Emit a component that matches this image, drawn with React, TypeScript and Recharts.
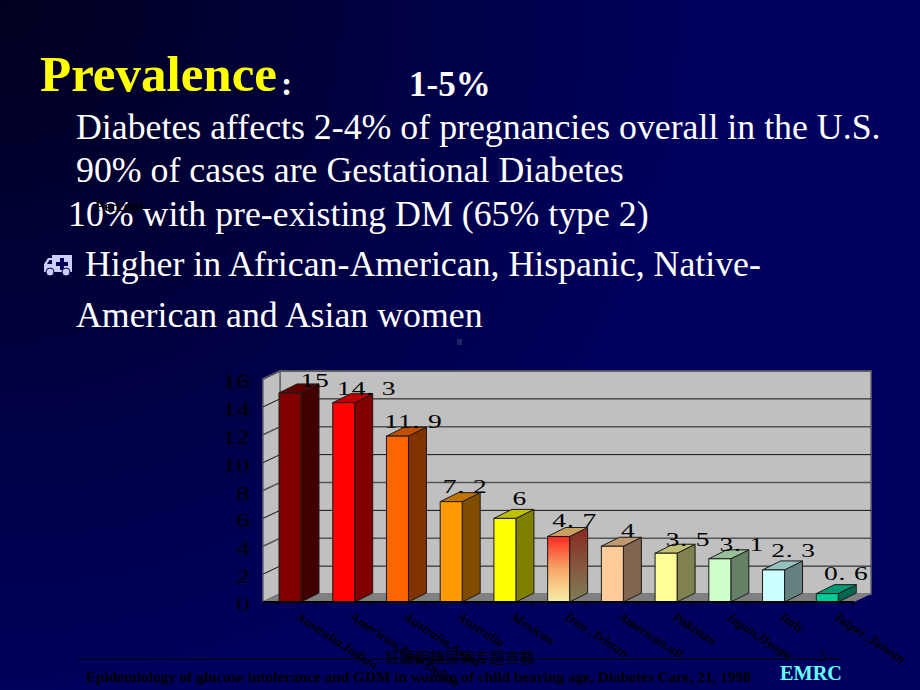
import React from "react";
import { BarChart, Bar, XAxis, YAxis, CartesianGrid, LabelList } from "recharts";

const categories = [
  "Australia,Indian",
  "American,Zuni Indian",
  "Australia,Asian",
  "Australia",
  "Mexican",
  "Iran ,Tehran",
  "American,all",
  "Pakistan",
  "Japan,Hyogo",
  "Italy",
  "Taipei ,Taiwan",
];
const prevalence = [15, 14.3, 11.9, 7.2, 6, 4.7, 4, 3.5, 3.1, 2.3, 0.6];
const yTicks = [0, 2, 4, 6, 8, 10, 12, 14, 16];
const barColors = [
  "#800000",
  "#ff0000",
  "#ff6600",
  "#ff9900",
  "#ffff00",
  "url(#fade)",
  "#ffcc99",
  "#ffff99",
  "#ccffcc",
  "#ccffff",
  "#00cc99",
];
const sideColors = [
  "#400000",
  "#800000",
  "#803300",
  "#804d00",
  "#808000",
  "#85604a",
  "#806650",
  "#808050",
  "#668066",
  "#668080",
  "#00664d",
];
const topColors = [
  "#600000",
  "#c00000",
  "#c04d00",
  "#c07300",
  "#c0c000",
  "#c8a060",
  "#c09973",
  "#c0c073",
  "#99c099",
  "#99c0c0",
  "#009973",
];

const chartData = categories.map((name, i) => ({ name, value: prevalence[i] }));

// plot box and the 3d depth of the walls
const LEFT = 263;
const RIGHT = 854;
const TOP = 379;
const FLOOR = 602;
const DX = 17;
const DY = 8;

// value labels sit a bit off the bars in the original, nudge [dx, dy] per bar
const labelNudge = [
  [25, -6],
  [23, -8],
  [16, -8],
  [14, -9],
  [15, -13],
  [16, -9],
  [16, -9],
  [22, -7],
  [22, -8],
  [20, -13],
  [19, -14],
];

// sits under the chart, the chart svg itself is transparent
const Walls = () => (
  <svg width={920} height={690} style={{ position: "absolute", left: 0, top: 0 }}>
    <polygon
      points={`${LEFT + DX},${TOP - DY} ${RIGHT + DX},${TOP - DY} ${RIGHT + DX},${FLOOR - DY} ${LEFT + DX},${FLOOR - DY}`}
      fill="#c0c0c0"
      stroke="#666677"
      strokeWidth={1.5}
    />
    <polygon
      points={`${LEFT},${TOP} ${LEFT + DX},${TOP - DY} ${LEFT + DX},${FLOOR - DY} ${LEFT},${FLOOR}`}
      fill="#c0c0c0"
      stroke="#666677"
      strokeWidth={1.5}
    />
    <polygon
      points={`${LEFT},${FLOOR} ${LEFT + DX},${FLOOR - DY} ${RIGHT + DX},${FLOOR - DY} ${RIGHT},${FLOOR}`}
      fill="#808080"
    />
  </svg>
);

const WallLine = (props: any) => {
  const { y1, x1, x2, index } = props;
  if (y1 >= FLOOR - 1) return <g />;
  return (
    <polyline
      points={`${x1},${y1} ${x1 + DX},${y1 - DY} ${x2 + DX},${y1 - DY}`}
      fill="none"
      stroke={index % 2 ? "#111111" : "#555555"}
      strokeWidth={index % 2 ? 1 : 1.5}
    />
  );
};

const Box3D = (props: any) => {
  const { x, y, width, height, index } = props;
  const r = x + width;
  const b = y + height;
  const dx = 18;
  const dy = 9;
  return (
    <g stroke="#1a1a1a" strokeWidth={1}>
      <polygon
        points={`${r},${y} ${r + dx},${y - dy} ${r + dx},${b - dy} ${r},${b}`}
        fill={index === 5 ? "url(#fadeSide)" : sideColors[index]}
      />
      <polygon
        points={`${x},${y} ${x + dx},${y - dy} ${r + dx},${y - dy} ${r},${y}`}
        fill={topColors[index]}
      />
      <rect x={x} y={y} width={width} height={height} fill={barColors[index]} />
    </g>
  );
};

const CategoryTick = (props: any) => {
  const { x, y, payload, index } = props;
  const slot = (RIGHT - LEFT) / categories.length;
  return (
    <g>
      <line x1={x - slot / 2} y1={FLOOR} x2={x - slot / 2} y2={FLOOR + 4} stroke="#000000" />
      {index === categories.length - 1 && (
        <line x1={x + slot / 2} y1={FLOOR} x2={x + slot / 2} y2={FLOOR + 4} stroke="#000000" />
      )}
      <text
        x={x + 6}
        y={y + 9}
        transform={`rotate(33 ${x + 6} ${y + 9})`}
        fontFamily="Liberation Serif"
        fontWeight="bold"
        fontStyle="italic"
        fontSize={13}
        letterSpacing={0.3}
        fill="#000000"
      >
        {payload.value}
      </text>
    </g>
  );
};

// the chart text in the original is stretched sideways
const WideText = ({ x, y, anchor, spacing, children }: any) => (
  <g transform={`translate(${x} ${y}) scale(1.45 1)`}>
    <text
      textAnchor={anchor}
      fontFamily="Liberation Serif"
      fontSize={19}
      letterSpacing={spacing}
      fill="#000000"
    >
      {children}
    </text>
  </g>
);

const ValueTick = (props: any) => {
  const { y, payload } = props;
  return (
    <WideText x={250} y={y + 9} anchor="end" spacing={0}>
      {payload.value}
    </WideText>
  );
};

const BarValue = (props: any) => {
  const { x, y, width, value, index } = props;
  const [dx, dy] = labelNudge[index];
  return (
    <WideText x={x + width / 2 + dx} y={y + dy} anchor="middle" spacing={0.6}>
      {String(value).replace(".", ". ")}
    </WideText>
  );
};

const serif = "'Liberation Serif', serif";

const Line = ({ x, y, size, children, style }: any) => (
  <div
    style={{
      position: "absolute",
      left: x,
      top: y,
      fontFamily: serif,
      fontSize: size,
      lineHeight: 1,
      whiteSpace: "nowrap",
      color: "#ffffff",
      ...style,
    }}
  >
    {children}
  </div>
);

const Ambulance = () => (
  <svg
    width={30}
    height={24}
    viewBox="0 0 30 24"
    style={{ position: "absolute", left: 43, top: 253 }}
  >
    <path d="M9 2 H29 V19 H1 V11 L5 5 H9 Z" fill="#ccccff" />
    <path d="M4 11 L6.5 7 H9 V11 Z" fill="#000055" />
    <path d="M17 5 H21 V9 H25 V13 H21 V17 H17 V13 H13 V9 H17 Z" fill="#000055" />
    <circle cx={7} cy={19} r={4} fill="#ccccff" stroke="#000055" />
    <circle cx={23} cy={19} r={4} fill="#ccccff" stroke="#000055" />
  </svg>
);

export default function App() {
  return (
    <div
      style={{
        position: "absolute",
        left: 0,
        top: 0,
        width: 920,
        height: 690,
        overflow: "hidden",
        background: "radial-gradient(circle 700px at 0 0, #00001e 0%, #00005e 100%)",
      }}
    >
      <Walls />
      <BarChart
        width={920}
        height={690}
        data={chartData}
        margin={{ top: TOP, right: 920 - RIGHT, left: LEFT - 60, bottom: 0 }}
        barSize={22}
        style={{ position: "absolute", left: 0, top: 0 }}
      >
        <defs>
          <linearGradient id="fade" x1="0" y1="0" x2="0" y2="1">
            <stop offset="0" stopColor="#ff2a20" />
            <stop offset="0.5" stopColor="#f7a868" />
            <stop offset="1" stopColor="#f5f0a8" />
          </linearGradient>
          <linearGradient id="fadeSide" x1="0" y1="0" x2="0" y2="1">
            <stop offset="0" stopColor="#8a2a20" />
            <stop offset="1" stopColor="#808058" />
          </linearGradient>
        </defs>
        <CartesianGrid vertical={false} horizontal={(p: any) => <WallLine {...p} />} />
        <XAxis
          dataKey="name"
          height={690 - FLOOR}
          interval={0}
          axisLine={{ stroke: "#000000", strokeWidth: 2 }}
          tickLine={false}
          tick={(p: any) => <CategoryTick {...p} />}
        />
        <YAxis
          width={60}
          domain={[0, 16]}
          ticks={yTicks}
          axisLine={false}
          tickLine={false}
          tick={(p: any) => <ValueTick {...p} />}
        />
        <Bar dataKey="value" shape={(p: any) => <Box3D {...p} />} isAnimationActive={false}>
          <LabelList dataKey="value" content={(p: any) => <BarValue {...p} />} />
        </Bar>
      </BarChart>

      <Line x={40} y={49} size={51} style={{ color: "#ffff00", fontWeight: "bold" }}>
        Prevalence
      </Line>
      <Line x={281} y={67} size={34} style={{ fontWeight: "bold" }}>
        :
      </Line>
      <Line x={409} y={67} size={35} style={{ fontWeight: "bold" }}>
        1-5%
      </Line>
      <Line x={76} y={110} size={35.8}>
        Diabetes affects 2-4% of pregnancies overall in the U.S.
      </Line>
      <Line x={76} y={153} size={35.8}>
        90% of cases are Gestational Diabetes
      </Line>
      <Line x={68} y={197} size={35.8}>
        10% with pre-existing DM (65% type 2)
      </Line>
      <Line x={95} y={199} size={15} style={{ color: "#000000", fontWeight: "bold" }}>
        Percent
      </Line>
      <Ambulance />
      <Line x={85} y={247} size={35.8}>
        Higher in African-American, Hispanic, Native-
      </Line>
      <Line x={76} y={298} size={35.8}>
        American and Asian women
      </Line>
      <div style={{ position: "absolute", left: 457, top: 339, width: 5, height: 6, background: "#222266" }} />

      <div style={{ position: "absolute", left: 77, top: 659, width: 763, height: 1, background: "#000000" }} />
      <Line x={385} y={649} size={15} style={{ color: "#000000", fontFamily: "'Noto Sans CJK SC'" }}>
        妊娠期糖尿病专题宣教
      </Line>
      <Line x={819} y={650} size={14} style={{ color: "#000000" }}>
        3
      </Line>
      <Line x={86} y={669} size={15.3} style={{ color: "#000000", fontWeight: "bold" }}>
        Epidemiology of glucose intolerance and GDM in women of child bearing age, Diabetes Care, 21, 1998
      </Line>
      <Line x={780} y={663} size={20.3} style={{ color: "#66ffff", fontWeight: "bold" }}>
        EMRC
      </Line>
    </div>
  );
}
